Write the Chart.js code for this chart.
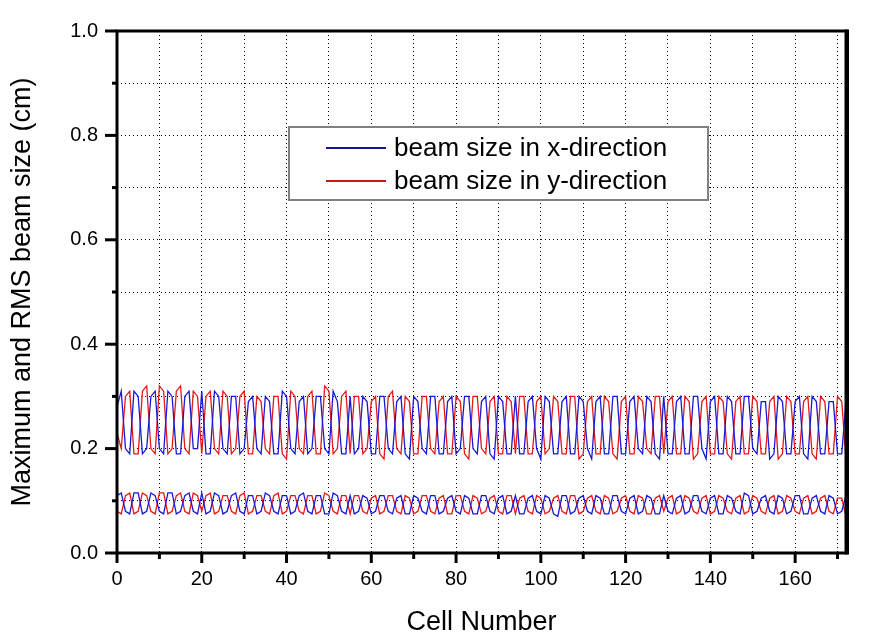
<!DOCTYPE html>
<html>
<head>
<meta charset="utf-8">
<script src="https://cdn.jsdelivr.net/npm/chart.js@4.4.0/dist/chart.umd.min.js"></script>
<style>
  body { margin: 0; background: #fff; }
</style>
</head>
<body>
<canvas id="myChart" width="878" height="644"></canvas>
<script>
// beam size vs cell number, one value per cell (0..172)
const xMax = [
    0.28,0.31,0.20,0.19, 0.31,0.30,0.19,0.20, 0.30,0.31,0.20,0.19, 0.31,0.30,0.19,0.19,
    0.30,0.31,0.20,0.20, 0.31,0.19,0.19, 0.31,0.30,0.20,0.19, 0.30,0.30,0.19,0.20,
    0.29,0.30,0.20,0.19, 0.30,0.29,0.19,0.19, 0.31,0.30,0.20,0.19, 0.29,0.30,0.19,0.20,
    0.30,0.30,0.20,0.19, 0.31,0.29,0.19,0.19, 0.30,0.19,0.20, 0.30,0.29,0.19,0.19,
    0.30,0.30,0.20,0.19, 0.29,0.30,0.19,0.18, 0.30,0.29,0.20,0.19, 0.30,0.30,0.19,0.19,
    0.29,0.30,0.19,0.20, 0.30,0.30,0.20,0.19, 0.29,0.30,0.19,0.18, 0.30,0.29,0.19,0.19,
    0.30,0.19,0.19, 0.29,0.30,0.20,0.18, 0.30,0.29,0.19,0.19, 0.29,0.30,0.19,0.19,
    0.30,0.29,0.20,0.18, 0.29,0.30,0.19,0.19, 0.30,0.30,0.19,0.19, 0.29,0.30,0.20,0.19,
    0.30,0.29,0.19,0.18, 0.30,0.19,0.19, 0.29,0.30,0.19,0.19, 0.30,0.30,0.20,0.18,
    0.29,0.30,0.19,0.19, 0.30,0.29,0.19,0.19, 0.30,0.30,0.20,0.19, 0.29,0.29,0.18,0.19,
    0.30,0.29,0.19,0.19, 0.29,0.30,0.19,0.18, 0.30,0.29,0.19,0.19, 0.29,0.29,0.19,0.19,
    0.29
];
const yMax = [
    0.23,0.20,0.30,0.31, 0.19,0.19,0.31,0.32, 0.20,0.19,0.32,0.31, 0.19,0.20,0.31,0.32,
    0.20,0.19,0.31,0.30, 0.19,0.30,0.31, 0.20,0.19,0.31,0.30, 0.19,0.20,0.30,0.31,
    0.19,0.19,0.30,0.29, 0.20,0.19,0.30,0.30, 0.19,0.18,0.31,0.30, 0.20,0.19,0.30,0.31,
    0.19,0.19,0.32,0.31, 0.19,0.20,0.30,0.31, 0.19,0.30,0.30, 0.19,0.20,0.29,0.30,
    0.19,0.18,0.30,0.31, 0.20,0.19,0.30,0.29, 0.19,0.19,0.30,0.30, 0.20,0.19,0.29,0.30,
    0.19,0.19,0.30,0.29, 0.19,0.18,0.30,0.30, 0.20,0.19,0.29,0.30, 0.19,0.19,0.30,0.29,
    0.19,0.30,0.30, 0.19,0.19,0.29,0.30, 0.19,0.20,0.30,0.29, 0.19,0.19,0.30,0.30,
    0.18,0.19,0.29,0.30, 0.19,0.19,0.30,0.29, 0.19,0.18,0.29,0.30, 0.19,0.19,0.30,0.29,
    0.20,0.19,0.30,0.30, 0.19,0.29,0.30, 0.19,0.19,0.30,0.29, 0.18,0.19,0.29,0.30,
    0.19,0.19,0.30,0.29, 0.19,0.18,0.29,0.30, 0.19,0.19,0.30,0.29, 0.19,0.19,0.29,0.30,
    0.18,0.19,0.30,0.29, 0.19,0.19,0.29,0.30, 0.19,0.18,0.30,0.29, 0.19,0.19,0.30,0.29,
    0.18
];
const xRms = [
    0.110,0.115,0.080,0.075, 0.115,0.115,0.075,0.080, 0.115,0.110,0.080,0.075, 0.115,0.115,0.075,0.080,
    0.110,0.115,0.080,0.075, 0.115,0.075,0.080, 0.115,0.110,0.075,0.080, 0.110,0.115,0.080,0.075,
    0.110,0.110,0.075,0.080, 0.115,0.110,0.080,0.075, 0.110,0.110,0.075,0.080, 0.110,0.115,0.080,0.075,
    0.110,0.110,0.075,0.075, 0.115,0.110,0.080,0.075, 0.110,0.075,0.080, 0.110,0.105,0.075,0.080,
    0.110,0.110,0.080,0.075, 0.105,0.110,0.075,0.075, 0.110,0.105,0.080,0.075, 0.110,0.110,0.075,0.080,
    0.105,0.110,0.080,0.075, 0.110,0.105,0.075,0.075, 0.110,0.110,0.080,0.075, 0.105,0.110,0.075,0.080,
    0.110,0.075,0.075, 0.105,0.110,0.080,0.075, 0.110,0.105,0.075,0.070, 0.110,0.110,0.075,0.080,
    0.105,0.110,0.080,0.075, 0.110,0.105,0.075,0.075, 0.110,0.110,0.080,0.075, 0.105,0.110,0.075,0.080,
    0.110,0.105,0.075,0.075, 0.110,0.080,0.075, 0.105,0.110,0.075,0.080, 0.110,0.110,0.080,0.075,
    0.105,0.110,0.075,0.075, 0.110,0.105,0.080,0.075, 0.115,0.110,0.075,0.080, 0.105,0.110,0.080,0.075,
    0.110,0.105,0.075,0.080, 0.110,0.110,0.075,0.075, 0.105,0.110,0.080,0.075, 0.110,0.105,0.075,0.080,
    0.110
];
const yRms = [
    0.080,0.075,0.110,0.115, 0.075,0.080,0.115,0.110, 0.080,0.075,0.115,0.115, 0.075,0.080,0.110,0.115,
    0.080,0.075,0.115,0.110, 0.080,0.110,0.115, 0.075,0.080,0.110,0.110, 0.080,0.075,0.110,0.115,
    0.075,0.080,0.110,0.110, 0.080,0.075,0.110,0.115, 0.075,0.080,0.110,0.110, 0.080,0.075,0.110,0.110,
    0.075,0.080,0.115,0.110, 0.080,0.075,0.110,0.110, 0.075,0.110,0.110, 0.080,0.075,0.105,0.110,
    0.075,0.080,0.110,0.110, 0.080,0.075,0.110,0.105, 0.075,0.080,0.110,0.110, 0.080,0.075,0.105,0.110,
    0.075,0.075,0.110,0.110, 0.080,0.075,0.110,0.105, 0.075,0.080,0.105,0.110, 0.080,0.075,0.110,0.110,
    0.075,0.105,0.110, 0.080,0.075,0.110,0.105, 0.075,0.080,0.105,0.110, 0.080,0.075,0.110,0.110,
    0.075,0.080,0.105,0.110, 0.080,0.075,0.110,0.105, 0.075,0.080,0.105,0.110, 0.080,0.075,0.110,0.105,
    0.075,0.075,0.105,0.110, 0.080,0.105,0.110, 0.075,0.080,0.110,0.105, 0.080,0.075,0.105,0.110,
    0.075,0.080,0.110,0.105, 0.080,0.075,0.105,0.110, 0.075,0.080,0.110,0.105, 0.080,0.075,0.105,0.110,
    0.075,0.080,0.110,0.105, 0.080,0.075,0.105,0.110, 0.075,0.080,0.105,0.110, 0.080,0.075,0.105,0.105,
    0.070
];
const legendLabels = ['beam size in x-direction', 'beam size in y-direction'];

const blue = 'rgb(25,25,215)';
const red = 'rgb(228,25,25)';
const fontName = "'Liberation Sans', Arial, sans-serif";

function pts(arr) {
    return arr.map((v, i) => ({x: i, y: v}));
}

function line(data, color) {
    return {
        data: pts(data),
        borderColor: color,
        borderWidth: 1.3,
        pointRadius: 0,
        tension: 0,
        fill: false,
    };
}

// frame, tick marks and the boxed legend
const extras = {
    id: 'extras',
    afterDatasetsDraw(chart) {
        const {ctx, chartArea: a, scales} = chart;
        ctx.save();
        ctx.strokeStyle = '#000';
        ctx.lineWidth = 3;
        scales.x.ticks.forEach(t => {
            const px = scales.x.getPixelForValue(t.value);
            const len = t.value % 20 === 0 ? 10 : 6;
            ctx.beginPath();
            ctx.moveTo(px, a.bottom);
            ctx.lineTo(px, a.bottom + len);
            ctx.stroke();
        });
        scales.y.ticks.forEach(t => {
            const py = scales.y.getPixelForValue(t.value);
            const len = Math.round(t.value * 10) % 2 === 0 ? 12 : 5;
            ctx.beginPath();
            ctx.moveTo(a.left, py);
            ctx.lineTo(a.left - len, py);
            ctx.stroke();
        });
        ctx.strokeRect(a.left, a.top, a.right - a.left, a.bottom - a.top);
        ctx.lineWidth = 4;
        ctx.beginPath();
        ctx.moveTo(a.right + 1, a.top - 1.5);
        ctx.lineTo(a.right + 1, a.bottom + 1.5);
        ctx.stroke();
        ctx.restore();
    },
    afterDraw(chart) {
        const ctx = chart.ctx;
        ctx.save();
        ctx.fillStyle = '#fff';
        ctx.fillRect(289, 127, 419, 73);
        ctx.strokeStyle = '#808080';
        ctx.lineWidth = 2;
        ctx.strokeRect(289, 127, 419, 73);
        const cols = ['rgb(20,20,140)', 'rgb(205,20,20)'];
        const ys = [148, 181];
        ctx.font = '26px ' + fontName;
        ctx.textBaseline = 'middle';
        ctx.fillStyle = '#000';
        legendLabels.forEach((lab, i) => {
            ctx.strokeStyle = cols[i];
            ctx.lineWidth = 2;
            ctx.beginPath();
            ctx.moveTo(326, ys[i]);
            ctx.lineTo(386, ys[i]);
            ctx.stroke();
            ctx.fillText(lab, 394, ys[i] + 1);
        });
        ctx.restore();
    }
};

let ctx = document.getElementById('myChart');

var myChart = new Chart(ctx, {
    type: 'line',
    data: {
        datasets: [
            line(xMax, blue),
            line(yMax, red),
            line(xRms, blue),
            line(yRms, red),
        ]
    },
    plugins: [extras],
    options: {
        responsive: false,
        animation: false,
        layout: {padding: {top: 18, right: 32, left: 0, bottom: 0}},
        plugins: {legend: {display: false}, tooltip: {enabled: false}},
        scales: {
            x: {
                type: 'linear',
                min: 0,
                max: 172,
                afterFit(s) { s.height = 91; },
                ticks: {
                    stepSize: 10,
                    includeBounds: false,
                    maxRotation: 0,
                    autoSkip: false,
                    padding: 14,
                    color: '#000',
                    font: {family: fontName, size: 20},
                    callback: v => (v % 20 === 0 ? v : ''),
                },
                grid: {color: '#000', lineWidth: 1, drawTicks: false},
                border: {display: false, dash: [1, 3]},
                title: {
                    display: true,
                    text: 'Cell Number',
                    color: '#000',
                    font: {family: fontName, size: 27},
                    padding: {top: 0, bottom: 5},
                },
            },
            y: {
                min: 0,
                max: 1,
                afterFit(s) { s.width = 117; },
                ticks: {
                    stepSize: 0.1,
                    padding: 19,
                    color: '#000',
                    font: {family: fontName, size: 20},
                    callback: v => (Math.round(v * 10) % 2 === 0 ? v.toFixed(1) : ''),
                },
                grid: {color: '#000', lineWidth: 1, drawTicks: false},
                border: {display: false, dash: [1, 3]},
                title: {
                    display: true,
                    text: 'Maximum and RMS beam size (cm)',
                    color: '#000',
                    font: {family: fontName, size: 27},
                    padding: {top: 6, bottom: 0},
                },
            }
        }
    }
});
</script>
</body>
</html>
